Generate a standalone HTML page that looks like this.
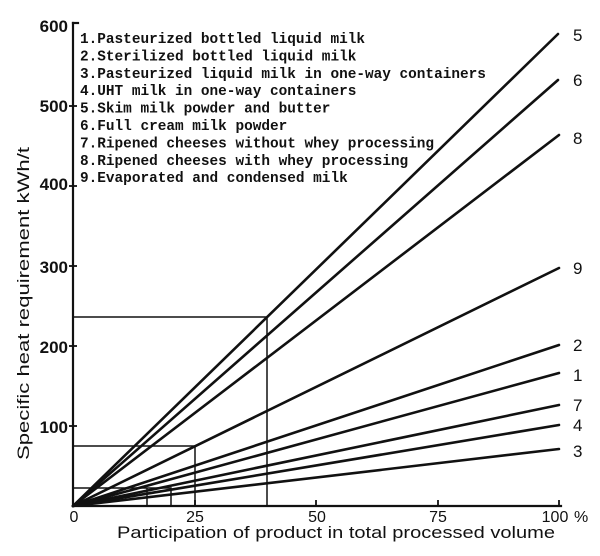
<!DOCTYPE html>
<html>
<head>
<meta charset="utf-8">
<style>
  html, body { margin: 0; padding: 0; background: #fff; }
  svg { display: block; }
  .mono { font-family: "Liberation Mono", "DejaVu Sans Mono", monospace; font-weight: bold; font-size: 14.4px; fill: #111; }
  .sans { font-family: "Liberation Sans", "DejaVu Sans", sans-serif; fill: #111; }
</style>
</head>
<body>
<svg width="600" height="556" viewBox="0 0 600 556" xmlns="http://www.w3.org/2000/svg">
  <rect width="600" height="556" fill="#fff"/>

  <!-- axes -->
  <g stroke="#111" stroke-width="2.2" fill="none" stroke-linecap="square">
    <line x1="73" y1="23" x2="73" y2="506"/>
    <line x1="73" y1="506" x2="561" y2="506"/>
    <line x1="73" y1="23" x2="78" y2="23"/>
  </g>
  <!-- y ticks -->
  <g stroke="#111" stroke-width="1.8">
    <line x1="69" y1="106" x2="77" y2="106"/>
    <line x1="69" y1="186" x2="77" y2="186"/>
    <line x1="69" y1="266" x2="77" y2="266"/>
    <line x1="69" y1="346" x2="77" y2="346"/>
    <line x1="69" y1="426" x2="77" y2="426"/>
  </g>
  <!-- x ticks -->
  <g stroke="#111" stroke-width="1.8">
    <line x1="195" y1="500" x2="195" y2="506"/>
    <line x1="316" y1="500" x2="316" y2="506"/>
    <line x1="438" y1="500" x2="438" y2="506"/>
    <line x1="559" y1="500" x2="559" y2="506"/>
  </g>

  <!-- helper lines -->
  <g stroke="#111" stroke-width="1.5" fill="none">
    <polyline points="73,317 267,317 267,506"/>
    <polyline points="73,446 195,446 195,506"/>
    <polyline points="73,488 171,488 171,506"/>
    <line x1="147" y1="488" x2="147" y2="506"/>
  </g>

  <!-- series lines -->
  <g stroke="#111" stroke-width="2.6" stroke-linecap="round">
    <line x1="73" y1="506" x2="558" y2="34"/>
    <line x1="73" y1="506" x2="558" y2="80"/>
    <line x1="73" y1="506" x2="559" y2="135"/>
    <line x1="73" y1="506" x2="559" y2="268"/>
    <line x1="73" y1="506" x2="559" y2="345"/>
    <line x1="73" y1="506" x2="559" y2="373"/>
    <line x1="73" y1="506" x2="559" y2="405"/>
    <line x1="73" y1="506" x2="559" y2="425"/>
    <line x1="73" y1="506" x2="559" y2="449"/>
  </g>

  <!-- legend text -->
  <text class="mono" x="80" y="43">1.Pasteurized bottled liquid milk</text>
  <text class="mono" x="80" y="60.4">2.Sterilized bottled liquid milk</text>
  <text class="mono" x="80" y="77.8">3.Pasteurized liquid milk in one-way containers</text>
  <text class="mono" x="80" y="95.2">4.UHT milk in one-way containers</text>
  <text class="mono" x="80" y="112.6">5.Skim milk powder and butter</text>
  <text class="mono" x="80" y="130">6.Full cream milk powder</text>
  <text class="mono" x="80" y="147.4">7.Ripened cheeses without whey processing</text>
  <text class="mono" x="80" y="164.8">8.Ripened cheeses with whey processing</text>
  <text class="mono" x="80" y="182.2">9.Evaporated and condensed milk</text>

  <!-- y tick labels -->
  <g class="sans" font-size="17" font-weight="bold" text-anchor="end">
    <text x="68" y="32">600</text>
    <text x="68" y="112">500</text>
    <text x="68" y="190">400</text>
    <text x="68" y="273">300</text>
    <text x="68" y="353">200</text>
    <text x="68" y="433">100</text>
  </g>

  <!-- x tick labels -->
  <g class="sans" font-size="16" text-anchor="middle">
    <text x="74" y="522">0</text>
    <text x="195" y="522">25</text>
    <text x="317" y="522">50</text>
    <text x="438" y="522">75</text>
    <text x="555" y="522">100</text>
  </g>
  <text class="sans" x="574" y="522" font-size="16">%</text>

  <!-- series labels -->
  <g class="sans" font-size="17">
    <text x="573" y="41">5</text>
    <text x="573" y="86">6</text>
    <text x="573" y="144">8</text>
    <text x="573" y="274">9</text>
    <text x="573" y="351">2</text>
    <text x="573" y="381">1</text>
    <text x="573" y="411">7</text>
    <text x="573" y="431">4</text>
    <text x="573" y="457">3</text>
  </g>

  <!-- axis titles -->
  <text class="sans" x="117" y="538" font-size="17" textLength="438" lengthAdjust="spacingAndGlyphs">Participation of product in total processed volume</text>
  <text class="sans" font-size="17" textLength="313" lengthAdjust="spacingAndGlyphs" transform="translate(29,460) rotate(-90)" x="0" y="0">Specific heat requirement kWh/t</text>
</svg>
</body>
</html>
